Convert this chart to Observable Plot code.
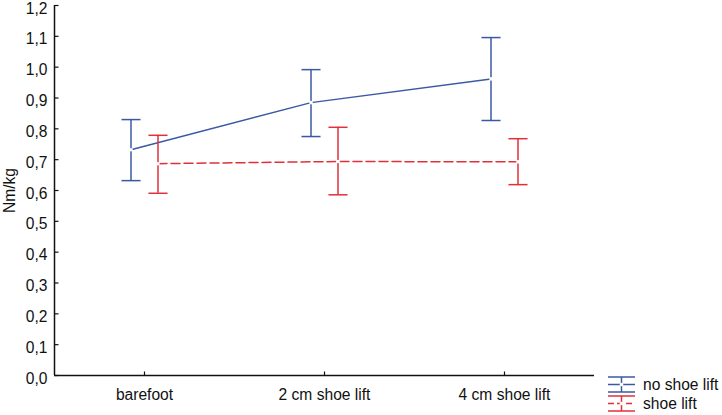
<!DOCTYPE html>
<html><head><meta charset="utf-8">
<script src="https://cdn.jsdelivr.net/npm/d3@7"></script>
<script src="https://cdn.jsdelivr.net/npm/@observablehq/plot@0.6"></script>
<style>
body{margin:0;background:#fff;font-family:"Liberation Sans",Arial,sans-serif;}
#wrap{position:relative;width:722px;height:415px;overflow:hidden;}
#legend{position:absolute;left:607px;top:375px;font-size:15.6px;color:#111;}
#legend div{display:flex;align-items:center;height:19px;}
#legend svg{margin-right:7px;}
</style></head><body>
<div id="wrap"><div id="chart"></div>
<div id="legend"></div></div>
<script>
const categories = ["barefoot", "2 cm shoe lift", "4 cm shoe lift"];
const seriesNames = ["no shoe lift", "shoe lift"];
const noLiftMean = [0.732, 0.885, 0.962];
const noLiftLow  = [0.632, 0.775, 0.827];
const noLiftHigh = [0.830, 0.992, 1.096];
const liftMean = [0.687, 0.694, 0.693];
const liftLow  = [0.591, 0.586, 0.619];
const liftHigh = [0.779, 0.805, 0.768];
const yTicks = [0,0.1,0.2,0.3,0.4,0.5,0.6,0.7,0.8,0.9,1.0,1.1,1.2];
const xTicks = [0, 1, 2];

const colors = {"no shoe lift": "#3a58a3", "shoe lift": "#e0303a"};
const offset = {"no shoe lift": -0.075, "shoe lift": 0.075};
const capHalf = 0.053;
const yTickLen = 4 / 180;      // 4px in x units
const xTickLen = 4 / 308.33;   // 4px in y units

const rows = [];
categories.forEach((c, i) => {
  rows.push({series: seriesNames[0], i, x: i + offset[seriesNames[0]], m: noLiftMean[i], lo: noLiftLow[i], hi: noLiftHigh[i]});
  rows.push({series: seriesNames[1], i, x: i + offset[seriesNames[1]], m: liftMean[i], lo: liftLow[i], hi: liftHigh[i]});
});
const blue = rows.filter(d => d.series === seriesNames[0]);
const red = rows.filter(d => d.series === seriesNames[1]);

const fmt = d => d.toFixed(1).replace(".", ",");
const FS = 15.6;

const marks = [];
for (const [data, s] of [[blue, seriesNames[0]], [red, seriesNames[1]]]) {
  const col = colors[s];
  marks.push(Plot.line(data, {x: "x", y: "m", stroke: col, strokeWidth: 1.5, strokeDasharray: s === "shoe lift" ? "9,4" : null}));
  marks.push(Plot.ruleX(data, {x: "x", y1: "lo", y2: "hi", stroke: col, strokeWidth: 1.5}));
  marks.push(Plot.link(data, {x1: d => d.x - capHalf, x2: d => d.x + capHalf, y1: "lo", y2: "lo", stroke: col, strokeWidth: 1.5}));
  marks.push(Plot.link(data, {x1: d => d.x - capHalf, x2: d => d.x + capHalf, y1: "hi", y2: "hi", stroke: col, strokeWidth: 1.5}));
  marks.push(Plot.dot(data, {x: "x", y: "m", r: 1.8, fill: "white", stroke: "none"}));
}

const chart = Plot.plot({
  width: 722, height: 415,
  marginLeft: 54, marginRight: 128, marginTop: 5, marginBottom: 40,
  style: {fontFamily: "'Liberation Sans', Arial, sans-serif", fontSize: FS + "px", color: "#111", background: "white", overflow: "visible"},
  x: {type: "linear", domain: [-0.5, 2.5]},
  y: {domain: [0, 1.2]},
  marks: [
    Plot.axisY({ticks: yTicks, tickFormat: fmt, tickSize: 0, tickPadding: 7, label: null, fontSize: FS, dy: 3}),
    Plot.axisX({ticks: xTicks, tickFormat: i => categories[i], tickSize: 0, tickPadding: 13, label: null, fontSize: FS}),
    Plot.link(yTicks, {x1: -0.5, x2: -0.5 + yTickLen, y1: d => d, y2: d => d, stroke: "#111", strokeWidth: 1.2}),
    Plot.link(xTicks, {x1: d => d, x2: d => d, y1: 0, y2: xTickLen, stroke: "#111", strokeWidth: 1.2}),
    Plot.ruleX([-0.5], {stroke: "#111", strokeWidth: 1.5}),
    Plot.ruleY([0], {stroke: "#111", strokeWidth: 1.5}),
    Plot.text(["Nm/kg"], {frameAnchor: "left", textAnchor: "middle", dx: -45, rotate: -90, fontSize: FS, fill: "#111"}),
    ...marks
  ]
});
document.getElementById("chart").appendChild(chart);

// legend
const leg = document.getElementById("legend");
seriesNames.forEach(s => {
  const col = colors[s];
  const dash = s === "shoe lift";
  const row = document.createElement("div");
  row.innerHTML = `<svg width="29" height="19"><g stroke="${col}" stroke-width="1.5">
    <line x1="1" x2="28" y1="2" y2="2"/><line x1="1" x2="28" y1="17" y2="17"/>
    <line x1="14.5" x2="14.5" y1="2" y2="17"/>
    <line x1="1" x2="28" y1="9.5" y2="9.5" ${dash ? 'stroke-dasharray="6,3"' : ''}/></g>
    <circle cx="14.5" cy="9.5" r="1.8" fill="white"/></svg><span>${s}</span>`;
  leg.appendChild(row);
});
</script></body></html>
